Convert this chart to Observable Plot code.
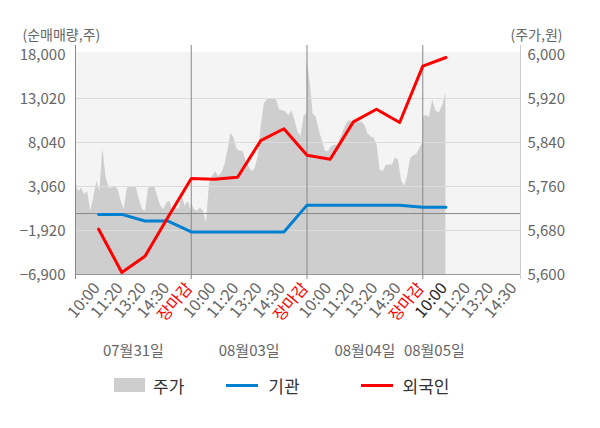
<!DOCTYPE html>
<html><head><meta charset="utf-8">
<script src="https://cdn.jsdelivr.net/npm/d3@7"></script>
<script src="https://cdn.jsdelivr.net/npm/@observablehq/plot@0.6"></script>
<style>
body{margin:0;background:#fff;font-family:"Noto Sans CJK KR","Noto Sans",sans-serif;}
#legend{width:600px;height:30px;display:flex;align-items:center;box-sizing:border-box;padding-left:114px;color:#333;font-size:17px;}
.item{display:flex;align-items:center;}
.item .sw{display:inline-block;}
</style></head><body>
<div id="chart"></div>
<div id="legend"></div>
<script>
// ---- data ----
const days = ["07월31일", "08월03일", "08월04일", "08월05일"];
const slotLabels = ["10:00", "11:20", "13:20", "14:30", "장마감"];
const leftTicks = [-6900, -1920, 3060, 8040, 13020, 18000];
const rightTicks = [5600, 5680, 5760, 5840, 5920, 6000];
// 외국인 / 기관 순매매량 at each time slot (10:00 ... 장마감), last day only 10:00
const foreign = [-1770, -6670, -4830, -400, 3970, 3890, 4110, 8250, 9600, 6600, 6150, 10370, 11810, 10300, 16680, 17660];
const inst = [-100, -100, -850, -850, -2080, -2080, -2080, -2080, -2080, 950, 950, 950, 950, 950, 700, 700];
// 주가 (원), intraday samples per day
const price0731 = [5772, 5751, 5757, 5745, 5751, 5715, 5739, 5769, 5751, 5830, 5778, 5757, 5757, 5760, 5754, 5733, 5718, 5757, 5760, 5760, 5757, 5736, 5718, 5715, 5757, 5760, 5760, 5742, 5724, 5718, 5730, 5733, 5712, 5721, 5718, 5742, 5724, 5733, 5715];
const price0803 = [5730, 5718, 5715, 5721, 5715, 5694, 5766, 5778, 5787, 5778, 5784, 5798, 5824, 5857, 5848, 5828, 5824, 5824, 5807, 5795, 5787, 5793, 5815, 5872, 5911, 5918, 5920, 5920, 5917, 5899, 5898, 5896, 5888, 5898, 5881, 5860, 5851, 5887, 5894];
const price0804 = [5992, 5950, 5892, 5886, 5862, 5844, 5824, 5823, 5832, 5835, 5835, 5847, 5862, 5874, 5880, 5877, 5880, 5877, 5877, 5871, 5856, 5850, 5848, 5835, 5790, 5787, 5798, 5799, 5799, 5812, 5808, 5772, 5760, 5778, 5811, 5816, 5818, 5829, 5838];
const price0805 = [5886, 5889, 5886, 5917, 5897, 5894, 5907, 5929];
const lastDayTickCount = 4;   // 10:00 ~ 14:30 on the last day
const lastDaySlotsDone = 1;   // data up to 10:00 on the last day

// ---- derived tables ----
const slotsPerDay = 5;
const xDomain = [0, 19.22];
const yDomain = [-6900, 18000];
const pDomain = [5600, 6000];
const toLeft = p => yDomain[0] + (p - pDomain[0]) / (pDomain[1] - pDomain[0]) * (yDomain[1] - yDomain[0]);
const priceByDay = [price0731, price0803, price0804, price0805];
const priceRows = priceByDay.flatMap((vals, d) => {
  const span = d < priceByDay.length - 1 ? slotsPerDay : lastDaySlotsDone;
  return vals.map((p, i) => ({pos: d * slotsPerDay + i * span / (vals.length - 1), v: toLeft(p)}));
});
const flowRows = foreign.map((f, k) => ({
  pos: Math.floor(k / slotsPerDay) * slotsPerDay + (k % slotsPerDay) + 1,
  foreign: f, inst: inst[k]
}));
const lastPos = flowRows[flowRows.length - 1].pos;
const tickRows = days.flatMap((day, d) => {
  const labs = d < days.length - 1 ? slotLabels : slotLabels.slice(0, lastDayTickCount);
  return labs.map((l, s) => {
    const pos = d * slotsPerDay + s + 1;
    return {pos, label: l, color: l === "장마감" ? "#ff0000" : (pos === lastPos ? "#222" : "#666")};
  });
});
const dayRows = days.map((l, d) => {
  const span = d < days.length - 1 ? slotsPerDay : lastDaySlotsDone;
  return {label: l, pos: d * slotsPerDay + span / 2};
});
const fmt = d3.format(",");

const chart = Plot.plot({
  width: 600, height: 370,
  marginLeft: 75, marginRight: 80, marginTop: 54, marginBottom: 96,
  x: {domain: xDomain, axis: null},
  y: {domain: yDomain, axis: null},
  style: {fontFamily: '"Noto Sans CJK KR","Noto Sans",sans-serif', background: "#fff"},
  marks: [
    Plot.frame({fill: "#f4f4f4", stroke: "none", insetTop: -2.5}),
    Plot.areaY(priceRows, {x: "pos", y1: yDomain[0], y2: "v", fill: "#cecece"}),
    Plot.ruleY(leftTicks.slice(1, -1), {stroke: "#dcdcdc", strokeWidth: 1}),
    Plot.ruleY([0], {stroke: "#888"}),
    Plot.ruleY([yDomain[0]], {stroke: "#999"}),
    Plot.ruleX(days.slice(1).map((_, i) => (i + 1) * slotsPerDay), {stroke: "#888", insetTop: -9, insetBottom: -5}),
    Plot.ruleX([xDomain[0]], {stroke: "#888", insetTop: -9, insetBottom: -5}),
    Plot.ruleX([xDomain[1]], {stroke: "#ccc", insetTop: -9, insetBottom: -5}),
    Plot.line(flowRows, {x: "pos", y: "inst", stroke: "#0080d0", strokeWidth: 3}),
    Plot.line(flowRows, {x: "pos", y: "foreign", stroke: "#ff0000", strokeWidth: 3}),
    Plot.text(leftTicks, {frameAnchor: "left", y: d => d, text: d => fmt(d), textAnchor: "end", dx: -10, dy: 1, fill: "#666", fontSize: 15}),
    Plot.text(rightTicks, {frameAnchor: "right", y: d => toLeft(d), text: d => fmt(d), textAnchor: "start", dx: 7, dy: 1, fill: "#666", fontSize: 15}),
    Plot.text(tickRows, {x: "pos", frameAnchor: "bottom", text: "label", fill: "color", rotate: -50, textAnchor: "end", dx: 2, dy: 14, fontSize: 16}),
    Plot.text(dayRows, {x: "pos", frameAnchor: "bottom", text: "label", dy: 81, fill: "#666", fontSize: 15}),
    Plot.text(["(순매매량,주)"], {frameAnchor: "top-left", text: d => d, textAnchor: "start", dx: -53, dy: -24, fill: "#666", fontSize: 14}),
    Plot.text(["(주가,원)"], {frameAnchor: "top-right", text: d => d, textAnchor: "end", dx: 42, dy: -24, fill: "#666", fontSize: 14})
  ]
});
document.getElementById("chart").appendChild(chart);

// ---- legend ----
const legendItems = [
  {name: "주가", kind: "rect", color: "#cecece", gap: 42},
  {name: "기관", kind: "line", color: "#0080d0", gap: 61},
  {name: "외국인", kind: "line", color: "#ff0000", gap: 0}
];
const lg = document.getElementById("legend");
legendItems.forEach(it => {
  const el = document.createElement("div");
  el.className = "item";
  el.style.marginRight = it.gap + "px";
  const sw = document.createElement("span");
  sw.className = "sw";
  sw.style.width = it.kind === "rect" ? "31px" : "32px";
  sw.style.height = it.kind === "rect" ? "14px" : "3px";
  sw.style.background = it.color;
  sw.style.marginRight = it.kind === "rect" ? "8px" : "10px";
  const tx = document.createElement("span");
  tx.textContent = it.name;
  el.appendChild(sw); el.appendChild(tx);
  lg.appendChild(el);
});
</script></body></html>
